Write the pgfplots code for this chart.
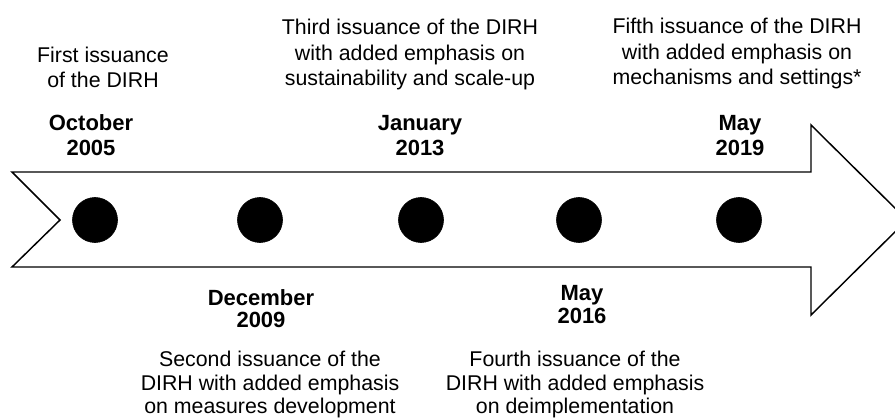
\documentclass[border=0pt]{standalone}
\usepackage{pgfplots}
\pgfplotsset{compat=1.18}
\usepackage{fontspec}
\setmainfont{Liberation Sans}
\begin{document}
\begin{tikzpicture}
\begin{axis}[name=ax, hide axis, scale only axis, width=671.25pt, height=315pt,
  xmin=0, xmax=895, ymin=0, ymax=420, y dir=reverse, clip=true]
% arrow body
\addplot[black, line width=1.1pt, fill=white, line join=miter] coordinates {
 (12,172) (811,172) (811,125) (907,220) (811,315) (811,267) (12,267) (60,220)} -- cycle;
% milestones
\addplot[only marks, mark=*, mark size=16.9pt, black] coordinates {
 (95,220) (260,220) (421,220) (579,220) (739,220)};
\coordinate (sw) at (axis cs:0,420);
\coordinate (ne) at (axis cs:895,0);
\tikzset{reg/.style={anchor=base, text=black, font=\fontsize{16}{19}\selectfont, inner sep=0pt},
         bld/.style={anchor=base, text=black, font=\fontsize{16.5}{19}\selectfont\bfseries, inner sep=0pt}}
% top texts
\node[reg] at (axis cs:103,63) {First issuance};
\node[reg] at (axis cs:103,88) {of the DIRH};
\node[reg] at (axis cs:410,35) {Third issuance of the DIRH};
\node[reg] at (axis cs:410,61) {with added emphasis on};
\node[reg] at (axis cs:410,86) {sustainability and scale-up};
\node[reg] at (axis cs:737,34) {Fifth issuance of the DIRH};
\node[reg] at (axis cs:737,60) {with added emphasis on};
\node[reg] at (axis cs:737,85) {mechanisms and settings*};
% top dates
\node[bld] at (axis cs:91,131) {October};
\node[bld] at (axis cs:91,156) {2005};
\node[bld] at (axis cs:420,131) {January};
\node[bld] at (axis cs:420,156) {2013};
\node[bld] at (axis cs:740,131) {May};
\node[bld] at (axis cs:740,156) {2019};
% bottom dates
\node[bld] at (axis cs:261,305) {December};
\node[bld] at (axis cs:261,327) {2009};
\node[bld] at (axis cs:582,300) {May};
\node[bld] at (axis cs:582,323) {2016};
% bottom texts
\node[reg] at (axis cs:270,366) {Second issuance of the};
\node[reg] at (axis cs:270,390) {DIRH with added emphasis};
\node[reg] at (axis cs:270,413) {on measures development};
\node[reg] at (axis cs:575,366) {Fourth issuance of the};
\node[reg] at (axis cs:575,390) {DIRH with added emphasis};
\node[reg] at (axis cs:575,413) {on deimplementation};
\end{axis}
\pgfresetboundingbox
\path (sw) rectangle (ne);
\end{tikzpicture}
\end{document}
